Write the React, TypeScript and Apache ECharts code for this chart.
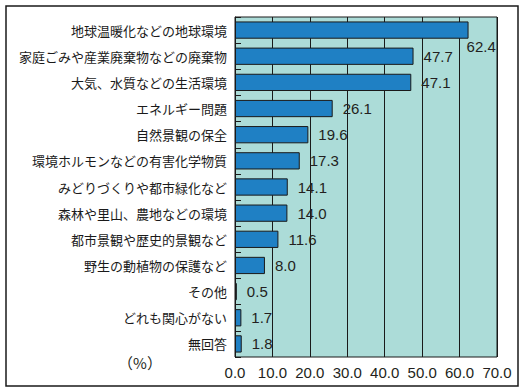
import React, { useEffect, useRef } from "react";
import * as echarts from "echarts";

const categories = [
  "地球温暖化などの地球環境",
  "家庭ごみや産業廃棄物などの廃棄物",
  "大気、水質などの生活環境",
  "エネルギー問題",
  "自然景観の保全",
  "環境ホルモンなどの有害化学物質",
  "みどりづくりや都市緑化など",
  "森林や里山、農地などの環境",
  "都市景観や歴史的景観など",
  "野生の動植物の保護など",
  "その他",
  "どれも関心がない",
  "無回答",
];
const values = [62.4, 47.7, 47.1, 26.1, 19.6, 17.3, 14.1, 14.0, 11.6, 8.0, 0.5, 1.7, 1.8];
const unitLabel = "（%）";

const NUM_FONT = "'Liberation Sans Narrow', 'Liberation Sans', Arial, sans-serif";
const VAL_FONT = "'Liberation Sans', Arial, sans-serif";
const JP_FONT = "'Noto Sans CJK JP', sans-serif";

export default function App() {
  const ref = useRef<HTMLDivElement>(null);
  useEffect(() => {
    if (!ref.current) return;
    const chart = echarts.init(ref.current, null, { renderer: "svg" });
    chart.setOption({
      animation: false,
      backgroundColor: "#ffffff",
      grid: {
        left: 235,
        right: 28,
        top: 17,
        bottom: 35,
        show: true,
        backgroundColor: "#acdcd8",
        borderColor: "#1a1a1a",
        borderWidth: 1,
      },
      xAxis: {
        type: "value",
        min: 0,
        max: 70,
        interval: 10,
        axisLine: { show: false },
        axisTick: { show: false },
        splitLine: { show: true, lineStyle: { color: "#1a1a1a", width: 1 } },
        axisLabel: {
          formatter: (v: number) => v.toFixed(1),
          color: "#231f20",
          fontFamily: NUM_FONT,
          fontSize: 15,
          margin: 8,
        },
      },
      yAxis: {
        type: "category",
        data: categories,
        inverse: true,
        axisLine: { show: true, lineStyle: { color: "#1a1a1a", width: 1 } },
        axisTick: { show: true, inside: true, length: 6, lineStyle: { color: "#1a1a1a" } },
        axisLabel: {
          color: "#1a1a1a",
          fontFamily: JP_FONT,
          fontSize: 13,
          margin: 8,
        },
      },
      graphic: [
        {
          type: "rect",
          shape: { x: 6, y: 6, width: 512, height: 380 },
          style: { fill: "none", stroke: "#1a1a1a", lineWidth: 1.5 },
          silent: true,
        },
        {
          type: "text",
          x: 140,
          y: 362,
          style: {
            text: unitLabel,
            fill: "#231f20",
            font: "15px 'Noto Sans CJK JP', sans-serif",
            textAlign: "center",
            textVerticalAlign: "middle",
          },
        },
      ],
      series: [
        {
          type: "bar",
          barWidth: "66%",
          data: values.map((v, i) =>
            i === 0
              ? { value: v, label: { offset: [-12, 16] } }
              : { value: v }
          ),
          itemStyle: { color: "#1f80c4", borderColor: "#1a1a1a", borderWidth: 1 },
          label: {
            show: true,
            position: "right",
            distance: 10,
            formatter: (p: any) => Number(p.value).toFixed(1),
            color: "#231f20",
            fontFamily: VAL_FONT,
            fontSize: 15,
          },
        },
      ],
    });
    return () => chart.dispose();
  }, []);
  return (
    <div
      ref={ref}
      style={{ position: "fixed", left: 0, top: 0, width: 525, height: 392 }}
    />
  );
}
